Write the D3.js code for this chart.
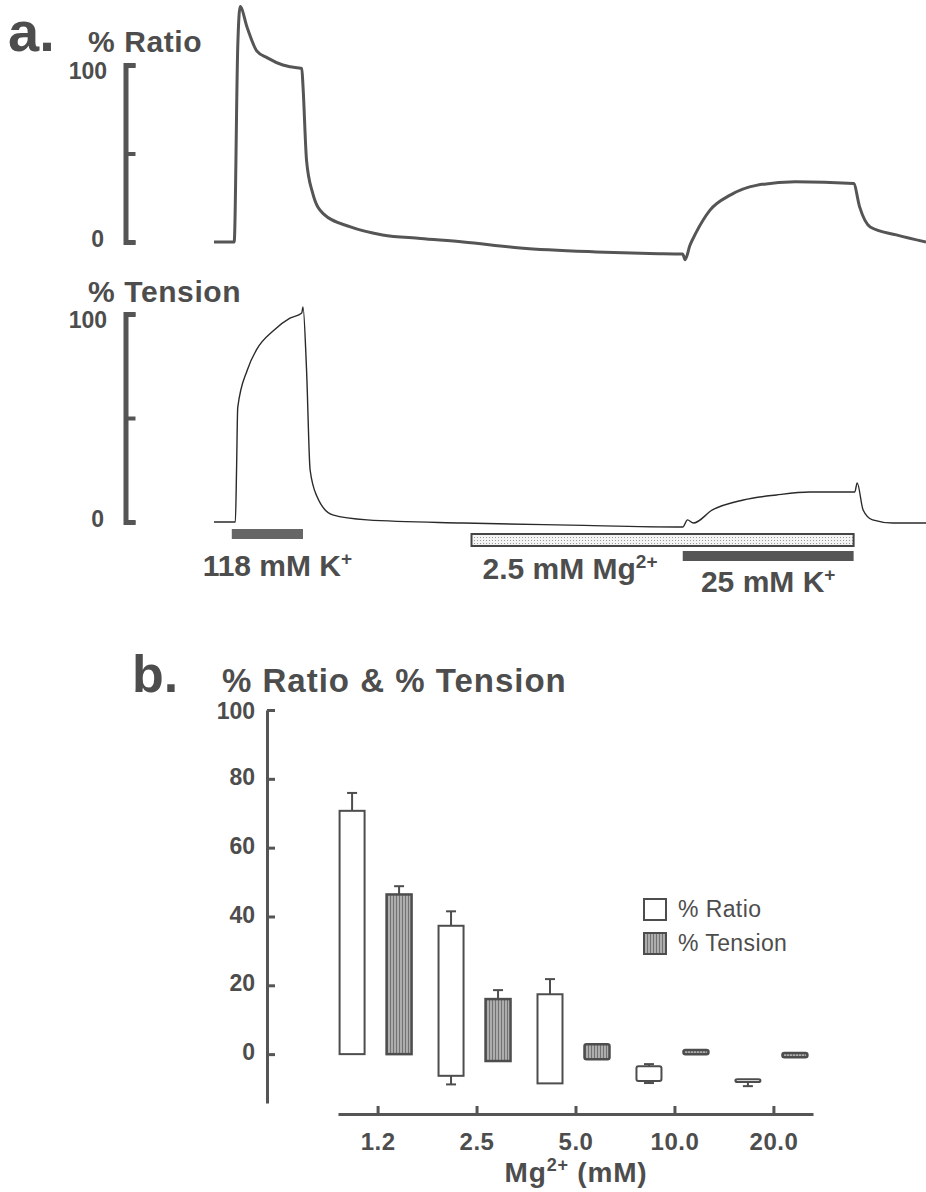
<!DOCTYPE html>
<html>
<head>
<meta charset="utf-8">
<script src="https://cdn.jsdelivr.net/npm/d3@7"></script>
<style>
body { margin: 0; background: #fff; }
text { font-family: "Liberation Sans", Arial, sans-serif; font-weight: bold; fill: #4d4d4d; }
</style>
</head>
<body>
<div id="chart"></div>
<script>
// ---- panel a: traces (time in min, value in % of 118 mM K+ response)
var ratioTime = [0, 1.5, 1.7, 2.0, 2.2, 2.8, 3.6, 4.5, 5.8, 6.4, 7.4, 7.5, 7.8, 8.3, 9.2, 11.5, 14.2, 17.4, 21.0, 25.8, 32.2, 36.7, 39.5, 39.7, 40.1, 40.6, 41.8, 43.5, 45.7, 49.0, 53.9, 54.4, 55.3, 57.5, 60];
var ratioValue = [0, 0, 0, 110, 133, 121, 108, 104, 100, 99, 98, 88, 46, 28, 16, 8.5, 4, 2, 0, -3.4, -5.6, -6.5, -6.8, -10, -2, 5, 18, 26.5, 32, 34, 33, 20, 8.5, 4, 0];

var tensionTime = [0, 1.8, 1.9, 2.0, 2.8, 3.6, 5.0, 6.4, 7.4, 7.5, 7.8, 8.1, 8.7, 10.0, 12.9, 21.0, 30.0, 39.5, 39.9, 40.4, 42.0, 44.6, 47.4, 50.2, 54.0, 54.2, 54.7, 55.5, 57.2, 60];
var tensionValue = [0, 0, 25, 55, 73, 83, 92, 98, 100.5, 103.4, 73, 25, 12, 3.4, 1, -0.5, -1.5, -2.4, 1, -0.5, 5.8, 10.6, 13, 14.4, 14.4, 18.8, 5.8, 1, -0.5, -0.5];

// treatment bars
var treatStart = [1.5, 21.7, 39.5];
var treatEnd = [7.5, 53.9, 53.9];

// ---- panel b: bars (low / high edge of each bar, SE above / below)
var mgLevels = ["1.2", "2.5", "5.0", "10.0", "20.0"];
var ratioLow = [0, -6.3, -8.5, -7.8, -8.1];
var ratioHigh = [70.7, 37.3, 17.4, -3.5, -7.3];
var ratioErrUp = [5.2, 4.2, 4.4, 0.6, 0];
var ratioErrDown = [0, 2.5, 0, 0.6, 1.2];
var tensionLow = [0, -2, -1.5, 0, -0.9];
var tensionHigh = [46.4, 16, 2.9, 1.2, 0.3];
var tensionErrUp = [2.4, 2.6, 0, 0, 0];
var tensionErrDown = [0, 0, 0, 0, 0];
var yTicksB = [0, 20, 40, 60, 80, 100];

var ink = "#4d4d4d";

var svg = d3.select("#chart").append("svg")
    .attr("width", 926)
    .attr("height", 1192);

// patterns
var defs = svg.append("defs");
var stripes = defs.append("pattern")
    .attr("id", "stripes")
    .attr("patternUnits", "userSpaceOnUse")
    .attr("width", 3).attr("height", 3);
stripes.append("rect").attr("width", 3).attr("height", 3).attr("fill", "#adadad");
stripes.append("rect").attr("width", 1).attr("height", 3).attr("fill", "#727272");

var dots = defs.append("pattern")
    .attr("id", "dots")
    .attr("patternUnits", "userSpaceOnUse")
    .attr("width", 3).attr("height", 3);
dots.append("rect").attr("width", 3).attr("height", 3).attr("fill", "#f4f4f4");
dots.append("rect").attr("width", 1).attr("height", 1).attr("fill", "#9a9a9a");

// ================= panel a =================
var xTime = d3.scaleLinear().domain([0, 60]).range([214, 926]);
var yRatio = d3.scaleLinear().domain([0, 100]).range([242, 65]);
var yTension = d3.scaleLinear().domain([0, 100]).range([522, 314]);

svg.append("text").attr("x", 8).attr("y", 51)
    .style("font-size", "56px").text("a.");

svg.append("text").attr("x", 88).attr("y", 52)
    .style("font-size", "30px").style("letter-spacing", "0.6px").text("% Ratio");
svg.append("text").attr("x", 88).attr("y", 302)
    .style("font-size", "30px").style("letter-spacing", "0.6px").text("% Tension");

function scaleBar(y) {
    var g = svg.append("g").attr("transform", "translate(125.5,0)")
        .call(d3.axisRight(y).tickValues([0, 50, 100]).tickSize(10).tickSizeOuter(10).tickFormat(""));
    g.select(".domain").attr("stroke", "#555").attr("stroke-width", 5).attr("fill", "none");
    g.selectAll(".tick line").attr("stroke", "#555").attr("stroke-width", 4);
    svg.append("text").attr("x", 107).attr("y", y(100) + 8)
        .attr("text-anchor", "end").attr("dominant-baseline", "middle")
        .style("font-size", "23px").text("100");
    svg.append("text").attr("x", 104).attr("y", y(0) - 1)
        .attr("text-anchor", "end").attr("dominant-baseline", "middle")
        .style("font-size", "23px").text("0");
}
scaleBar(yRatio);
scaleBar(yTension);

var ratioLine = d3.line()
    .x(function (d, i) { return xTime(ratioTime[i]); })
    .y(function (d) { return yRatio(d); })
    .curve(d3.curveMonotoneX);
svg.append("path")
    .attr("d", ratioLine(ratioValue))
    .attr("fill", "none")
    .attr("stroke", "#555")
    .attr("stroke-width", 3)
    .attr("stroke-linejoin", "round");

var tensionLine = d3.line()
    .x(function (d, i) { return xTime(tensionTime[i]); })
    .y(function (d) { return yTension(d); })
    .curve(d3.curveMonotoneX);
svg.append("path")
    .attr("d", tensionLine(tensionValue))
    .attr("fill", "none")
    .attr("stroke", "#2a2a2a")
    .attr("stroke-width", 1.4);

// treatment bars
var treatY = [529, 534, 551];
var treatH = [10, 12, 10];
var treatFill = ["#666", "url(#dots)", "#555"];
treatStart.forEach(function (s, i) {
    svg.append("rect")
        .attr("x", xTime(s)).attr("y", treatY[i])
        .attr("width", xTime(treatEnd[i]) - xTime(s)).attr("height", treatH[i])
        .attr("fill", treatFill[i])
        .attr("stroke", i === 1 ? "#444" : "none")
        .attr("stroke-width", 2);
});

var t1 = svg.append("text").attr("x", (xTime(treatStart[0]) + xTime(treatEnd[0])) / 2 + 10).attr("y", 576)
    .attr("text-anchor", "middle").style("font-size", "30px");
t1.append("tspan").text("118 mM K");
t1.append("tspan").attr("dy", -11).style("font-size", "19px").text("+");

var t2 = svg.append("text").attr("x", xTime(treatStart[1]) + 11).attr("y", 579)
    .style("font-size", "30px");
t2.append("tspan").text("2.5 mM Mg");
t2.append("tspan").attr("dy", -11).style("font-size", "19px").text("2+");

var t3 = svg.append("text").attr("x", (xTime(treatStart[2]) + xTime(treatEnd[2])) / 2).attr("y", 592)
    .attr("text-anchor", "middle").style("font-size", "30px");
t3.append("tspan").text("25 mM K");
t3.append("tspan").attr("dy", -11).style("font-size", "19px").text("+");

// ================= panel b =================
svg.append("text").attr("x", 132).attr("y", 692)
    .style("font-size", "52px").text("b.");
svg.append("text").attr("x", 222).attr("y", 692)
    .style("font-size", "33px").style("letter-spacing", "1px").text("% Ratio & % Tension");

var yB = d3.scaleLinear().domain([-14.2, 100]).range([1103, 710]);
var xB = d3.scalePoint().domain(mgLevels).range([338, 813]).padding(0.4);
var xS = d3.scaleBand().domain(["ratio", "tension"]).range([-38, 34]).paddingInner(0.468);

var yAxis = svg.append("g").attr("transform", "translate(267,0)")
    .call(d3.axisRight(yB).tickValues(yTicksB).tickSize(8).tickSizeOuter(0).tickFormat(""));
yAxis.select(".domain").attr("stroke", "#555").attr("stroke-width", 3);
yAxis.selectAll(".tick line").attr("stroke", "#555").attr("stroke-width", 3);
svg.selectAll(".ylab").data(yTicksB).enter().append("text")
    .attr("class", "ylab")
    .attr("x", 255).attr("y", function (d) { return yB(d) + (d === 100 ? 3 : 0); })
    .attr("text-anchor", "end").attr("dominant-baseline", "middle")
    .style("font-size", "23px")
    .text(function (d) { return d; });

var xAxis = svg.append("g").attr("transform", "translate(0,1114)")
    .call(d3.axisBottom(xB).tickSize(-8).tickSizeOuter(0).tickPadding(19));
xAxis.select(".domain").attr("stroke", "#555").attr("stroke-width", 3);
xAxis.selectAll(".tick line").attr("stroke", "#555").attr("stroke-width", 3);
xAxis.selectAll(".tick text")
    .style("font-size", "24px").style("font-family", "'Liberation Sans', Arial, sans-serif")
    .style("font-weight", "bold").style("letter-spacing", "0.5px").attr("fill", ink);

var xt = svg.append("text").attr("x", 576).attr("y", 1182)
    .attr("text-anchor", "middle").style("font-size", "28px").style("letter-spacing", "0.8px");
xt.append("tspan").text("Mg");
xt.append("tspan").attr("dy", -11).style("font-size", "18px").text("2+");
xt.append("tspan").attr("dy", 11).text(" (mM)");

var series = [
    { key: "ratio", low: ratioLow, high: ratioHigh, up: ratioErrUp, down: ratioErrDown, fill: "#fff" },
    { key: "tension", low: tensionLow, high: tensionHigh, up: tensionErrUp, down: tensionErrDown, fill: "url(#stripes)" }
];
var bw = xS.bandwidth();

series.forEach(function (s) {
    var g = svg.append("g");
    mgLevels.forEach(function (m, i) {
        var x0 = xB(m) + xS(s.key);
        var cx = x0 + bw / 2;
        var top = yB(s.high[i]);
        var bot = yB(s.low[i]);
        if (s.up[i] > 0) {
            var ey = yB(s.high[i] + s.up[i]);
            g.append("line").attr("x1", cx).attr("x2", cx).attr("y1", top).attr("y2", ey)
                .attr("stroke", ink).attr("stroke-width", 2);
            g.append("line").attr("x1", cx - 5).attr("x2", cx + 5).attr("y1", ey).attr("y2", ey)
                .attr("stroke", ink).attr("stroke-width", 2);
        }
        if (s.down[i] > 0) {
            var ed = yB(s.low[i] - s.down[i]);
            g.append("line").attr("x1", cx).attr("x2", cx).attr("y1", bot).attr("y2", ed)
                .attr("stroke", ink).attr("stroke-width", 2);
            g.append("line").attr("x1", cx - 5).attr("x2", cx + 5).attr("y1", ed).attr("y2", ed)
                .attr("stroke", ink).attr("stroke-width", 2);
        }
        g.append("rect")
            .attr("x", x0).attr("y", top)
            .attr("width", bw).attr("height", Math.max(bot - top, 1.5))
            .attr("rx", bot - top < 20 ? 2 : 0)
            .attr("fill", s.fill)
            .attr("stroke", ink).attr("stroke-width", s.key === "tension" ? 2.5 : 2);
    });
});

// legend
var legend = svg.append("g").attr("transform", "translate(644,899)");
series.forEach(function (s, i) {
    legend.append("rect").attr("x", 0).attr("y", i * 34).attr("width", 22).attr("height", 21)
        .attr("fill", s.fill).attr("stroke", ink).attr("stroke-width", 2);
    legend.append("text").attr("x", 34).attr("y", i * 34 + 18)
        .style("font-size", "23px").style("font-weight", "normal").style("letter-spacing", "0.4px")
        .text(i === 0 ? "% Ratio" : "% Tension");
});
</script>
</body>
</html>
